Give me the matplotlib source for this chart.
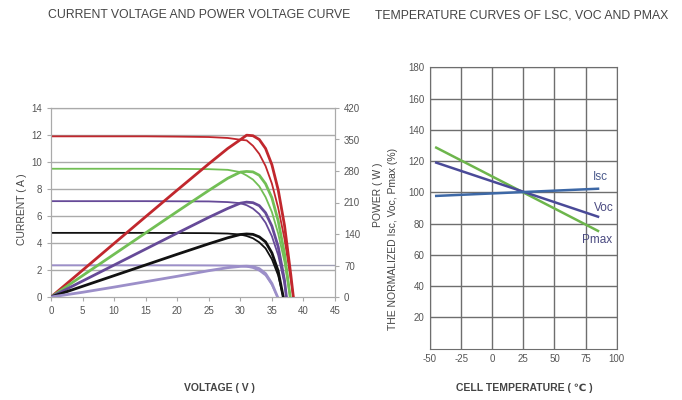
import numpy as np
import matplotlib
matplotlib.use("Agg")
from matplotlib import pyplot as plt

plt.rcParams['font.family'] = ['Liberation Sans', 'DejaVu Sans']
plt.rcParams['axes.unicode_minus'] = False

# curvas corriente-voltaje y potencia-voltaje
v_red = [0, 5, 10, 15, 20, 25, 28, 30, 31, 32, 33, 34, 35, 36, 37, 38, 38.4]
i_red = [11.9, 11.9, 11.9, 11.9, 11.88, 11.85, 11.78, 11.65, 11.6, 11.2, 10.6, 9.7, 8.4, 6.6, 4.3, 1.3, 0]
p_red = [0, 59.5, 119, 178.5, 237.6, 296, 330, 349.5, 359.6, 358.4, 350, 330, 294, 238, 159, 49, 0]

v_green = [0, 5, 10, 15, 20, 25, 28, 30, 31, 32, 33, 34, 35, 36, 37, 37.9]
i_green = [9.5, 9.5, 9.5, 9.5, 9.49, 9.47, 9.42, 9.25, 9.0, 8.7, 8.2, 7.4, 6.3, 4.7, 2.6, 0]
p_green = [0, 47.5, 95, 142.5, 190, 236.8, 263.8, 277.5, 279, 278, 270.6, 251.6, 220.5, 169, 96, 0]

v_purple = [0, 5, 10, 15, 20, 25, 28, 30, 31, 32, 33, 34, 35, 36, 37, 37.3]
i_purple = [7.1, 7.1, 7.1, 7.1, 7.09, 7.08, 7.03, 6.95, 6.8, 6.55, 6.15, 5.5, 4.5, 3.1, 1.0, 0]
p_purple = [0, 35.5, 71, 106.5, 142, 177, 196.8, 208.5, 210.8, 209.6, 203, 187, 157.5, 111.6, 37, 0]

v_black = [0, 5, 10, 15, 20, 25, 28, 30, 31, 32, 33, 34, 35, 36, 36.8]
i_black = [4.75, 4.75, 4.75, 4.75, 4.74, 4.73, 4.7, 4.63, 4.52, 4.35, 4.05, 3.6, 2.8, 1.6, 0]
p_black = [0, 23.75, 47.5, 71.25, 95, 118.25, 131.6, 138.9, 140.1, 139.2, 133.6, 122.4, 98, 57.6, 0]

v_lila = [0, 5, 10, 15, 20, 25, 28, 30, 31, 32, 33, 34, 35, 35.9]
i_lila = [2.35, 2.35, 2.35, 2.35, 2.35, 2.34, 2.33, 2.3, 2.25, 2.15, 1.95, 1.6, 0.9, 0]
p_lila = [0, 10.5, 22, 34, 46, 58.5, 65.2, 68, 68.5, 67.5, 63, 52, 30, 0]

volt_ticks = [0, 5, 10, 15, 20, 25, 30, 35, 40, 45]
corriente_ticks = [0, 2, 4, 6, 8, 10, 12, 14]
potencia_ticks = [0, 70, 140, 210, 280, 350, 420]

# curvas de temperatura
temp = [-45, 85]
isc = [97.7, 102.3]
voc = [119, 84.4]
pmax = [128.6, 75.3]
temp_ticks = [-50, -25, 0, 25, 50, 75, 100]
norm_ticks = [20, 40, 60, 80, 100, 120, 140, 160, 180]

gris = "#555555"
oscuro = "#444444"

fig = plt.figure(figsize=(6.82, 4.0), dpi=100)

# ---- grafica izquierda ----
ax = fig.add_axes([51/682, 1-297/400, (335-51)/682, (297-108)/400])
ax.set_xlim(0, 45)
ax.set_ylim(0, 14)
ax.set_xticks(volt_ticks)
ax.set_yticks(corriente_ticks)
for y in corriente_ticks[1:]:
    ax.axhline(y, color="#aaaaaa", lw=1, zorder=1)
ax.axhline(2.35, color="#9f9fb5", lw=1, zorder=1)

ax2 = ax.twinx()
ax2.set_ylim(0, 420)
ax2.set_yticks(potencia_ticks)

series = [(v_red, i_red, p_red, "#c1272d"),
          (v_green, i_green, p_green, "#72bf55"),
          (v_purple, i_purple, p_purple, "#664a98"),
          (v_black, i_black, p_black, "#111111"),
          (v_lila, i_lila, p_lila, "#9c8fc9")]
for v, i, p, c in series:
    ax.plot(v, i, color=c, lw=1.3, zorder=3)
    ax2.plot(v, p, color=c, lw=2.0, zorder=3)

for a in (ax, ax2):
    for s in a.spines.values():
        s.set_color("#aaaaaa")
    a.tick_params(colors="#aaaaaa", labelcolor=gris, labelsize=7, length=3)

fig.text(22/682, 1-209/400, "CURRENT ( A )", rotation=90, ha="center", va="center",
         fontsize=7.5, color=oscuro)
fig.text(378/682, 1-195/400, "POWER ( W )", rotation=90, ha="center", va="center",
         fontsize=7.5, color=oscuro)
fig.text(219/682, 1-388/400, "VOLTAGE ( V )", ha="center", va="center",
         fontsize=7.5, color=oscuro, fontweight="bold")

# ---- grafica derecha ----
bx = fig.add_axes([430/682, 1-348.6/400, (616.7-430)/682, (348.6-67.3)/400])
bx.set_xlim(-50, 100)
bx.set_ylim(0, 180)
bx.set_xticks(temp_ticks)
bx.set_yticks(norm_ticks)
bx.grid(True, color="#6e6e6e", lw=1)
bx.set_axisbelow(True)
for s in bx.spines.values():
    s.set_color("#6e6e6e")
bx.tick_params(colors="#6e6e6e", labelcolor=gris, labelsize=7, length=0, pad=4)

bx.plot(temp, pmax, color="#6db54c", lw=1.8)
bx.plot(temp, voc, color="#4a4a98", lw=1.8)
bx.plot(temp, isc, color="#3d68a6", lw=1.8)
bx.text(86.6, 110, "Isc", color="#4a5a8c", fontsize=8.5, ha="center", va="center")
bx.text(89.3, 89.8, "Voc", color="#4a4a80", fontsize=8.5, ha="center", va="center")
bx.text(84, 69.5, "Pmax", color="#4a4a80", fontsize=8.5, ha="center", va="center")

fig.text(393/682, 1-239/400, "THE NORMALIZED Isc, Voc, Pmax (%)", rotation=90,
         ha="center", va="center", fontsize=7.5, color=oscuro)
fig.text(524/682, 1-388/400, "CELL TEMPERATURE ( \u2103 )", ha="center", va="center",
         fontsize=7.5, color=oscuro, fontweight="bold")

# titulos
fig.text(48/682, 1-15/400, "CURRENT VOLTAGE AND POWER VOLTAGE CURVE", ha="left",
         va="center", fontsize=8.8, color=oscuro)
fig.text(375/682, 1-15/400, "TEMPERATURE CURVES OF LSC, VOC AND PMAX", ha="left",
         va="center", fontsize=8.8, color=oscuro)

fig.savefig("out.png", dpi=100)
